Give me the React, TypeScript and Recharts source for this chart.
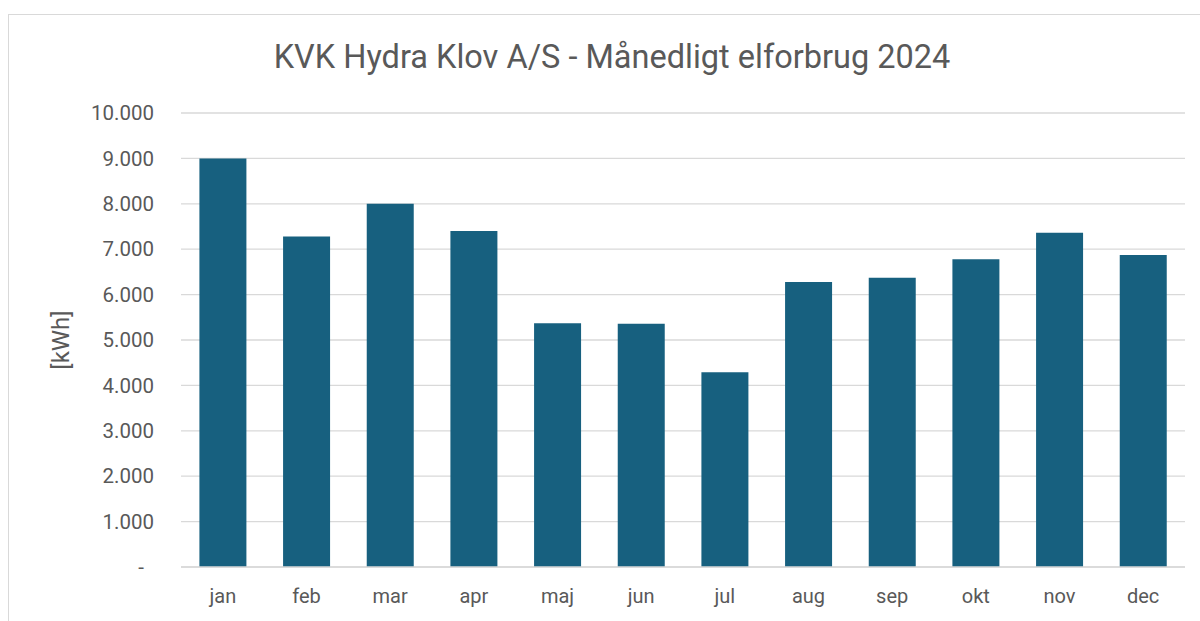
import React from 'react';
import { BarChart, Bar, XAxis, YAxis, CartesianGrid } from 'recharts';

const months = ['jan', 'feb', 'mar', 'apr', 'maj', 'jun', 'jul', 'aug', 'sep', 'okt', 'nov', 'dec'];
const consumption = [9000, 7280, 8000, 7400, 5370, 5360, 4290, 6280, 6370, 6780, 7360, 6870];
const yTicks = [0, 1000, 2000, 3000, 4000, 5000, 6000, 7000, 8000, 9000, 10000];
const titleText = 'KVK Hydra Klov A/S - Månedligt elforbrug 2024';
const yLabelText = '[kWh]';

const data = months.map((m, i) => ({ month: m, kwh: consumption[i] }));

const fmt = (v: number) => {
  if (v === 0) return '-\u00A0\u00A0';
  return v.toString().replace(/\B(?=(\d{3})+(?!\d))/g, '.');
};

const FONT = "Roboto, 'Liberation Sans', sans-serif";
const TEXT = '#595959';

export default function App() {
  return (
    <div style={{ position: 'absolute', left: 0, top: 0, width: 1200, height: 621, overflow: 'hidden', background: '#fff', fontFamily: FONT }}>
      <div style={{ position: 'absolute', left: 8, top: 14, width: 1300, height: 700, border: '1px solid #d9d9d9', boxSizing: 'border-box' }} />
      <div style={{ position: 'absolute', left: 9, top: 15 }}>
        <BarChart width={1191} height={606} data={data} margin={{ top: 98, right: 15, left: 0, bottom: 0 }} barCategoryGap="22%">
          <CartesianGrid vertical={false} stroke="#d9d9d9" strokeWidth={1.3} />
          <XAxis
            dataKey="month"
            height={54}
            tickLine={false}
            tickSize={0}
            tickMargin={22}
            axisLine={{ stroke: '#d9d9d9', strokeWidth: 1.3 }}
            tick={{ fill: TEXT, fontSize: 20, fontFamily: FONT }}
          />
          <YAxis
            width={172}
            domain={[0, 10000]}
            ticks={yTicks}
            interval={0}
            tickFormatter={fmt}
            tickLine={false}
            tickSize={0}
            tickMargin={27}
            axisLine={false}
            tick={{ fill: TEXT, fontSize: 20.5, fontFamily: FONT }}
          />
          <Bar dataKey="kwh" fill="#17607f" isAnimationActive={false} />
        </BarChart>
      </div>
      <div style={{ position: 'absolute', left: 212, width: 800, top: 37, textAlign: 'center', fontSize: 32.5, color: TEXT, fontFamily: FONT, whiteSpace: 'nowrap', lineHeight: '40px' }}>
        {titleText}
      </div>
      <div style={{ position: 'absolute', left: 61, top: 340, width: 0, height: 0 }}>
        <div style={{ position: 'absolute', left: -50, top: -14, width: 100, textAlign: 'center', transform: 'rotate(-90deg)', fontSize: 24, lineHeight: '28px', color: TEXT, fontFamily: FONT, whiteSpace: 'nowrap' }}>
          {yLabelText}
        </div>
      </div>
    </div>
  );
}
